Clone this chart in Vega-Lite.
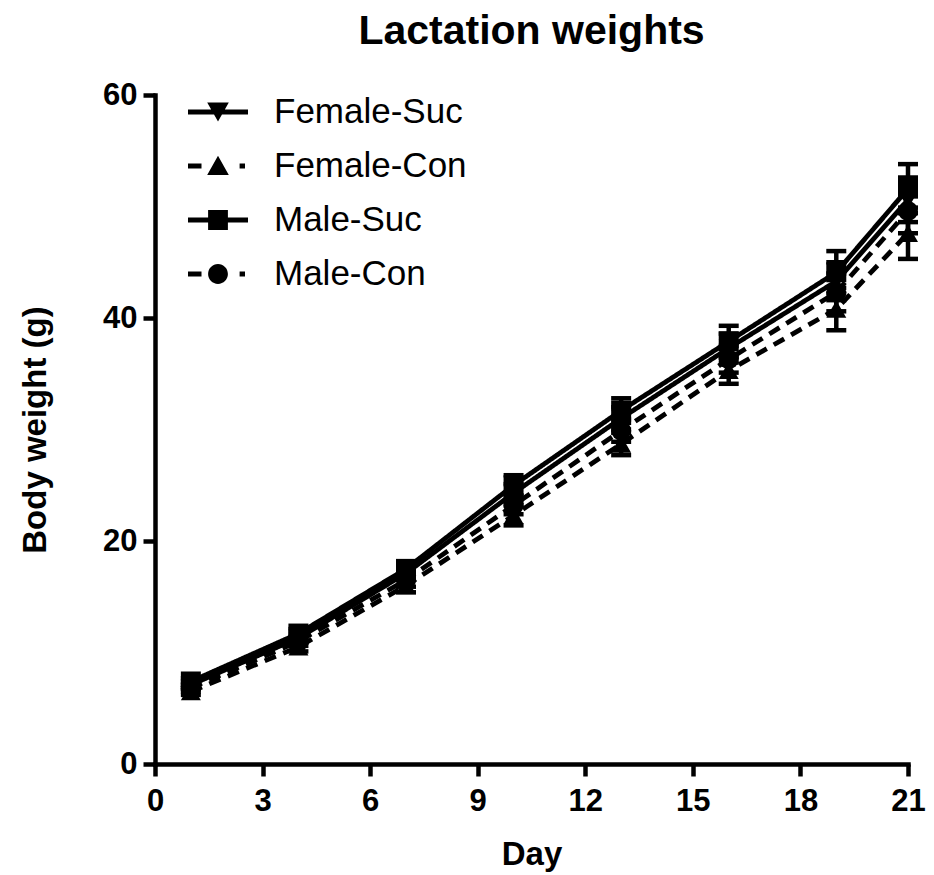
{
  "$schema": "https://vega.github.io/schema/vega-lite/v6.json",
  "autosize": "none",
  "width": 753,
  "height": 669,
  "padding": {"left": 155, "top": 95, "right": 26, "bottom": 111},
  "background": "white",
  "config": {
    "font": "Liberation Sans",
    "view": {"stroke": null},
    "axis": {
      "domainColor": "black", "domainWidth": 4.5, "domainCap": "square",
      "tickColor": "black", "tickWidth": 4.5, "tickSize": 12,
      "labelColor": "black", "labelFont": "Liberation Sans", "labelFontWeight": "bold", "labelFontSize": 31,
      "titleColor": "black", "titleFont": "Liberation Sans", "titleFontWeight": "bold", "titleFontSize": 33,
      "grid": false
    }
  },
  "title": {
    "text": "Lactation weights",
    "font": "Liberation Sans", "fontSize": 41, "fontWeight": "bold", "color": "black",
    "anchor": "middle", "offset": 26
  },
  "data": {
    "values": [
      {"day": 1, "group": "Male-Suc", "treatment": "Suc", "weight": 7.4, "sem": 0.3},
      {"day": 4, "group": "Male-Suc", "treatment": "Suc", "weight": 11.7, "sem": 0.4},
      {"day": 7, "group": "Male-Suc", "treatment": "Suc", "weight": 17.5, "sem": 0.6},
      {"day": 10, "group": "Male-Suc", "treatment": "Suc", "weight": 25.0, "sem": 0.9},
      {"day": 13, "group": "Male-Suc", "treatment": "Suc", "weight": 31.7, "sem": 1.1},
      {"day": 16, "group": "Male-Suc", "treatment": "Suc", "weight": 37.9, "sem": 1.4},
      {"day": 19, "group": "Male-Suc", "treatment": "Suc", "weight": 44.1, "sem": 1.9},
      {"day": 21, "group": "Male-Suc", "treatment": "Suc", "weight": 51.6, "sem": 2.2},
      {"day": 1, "group": "Female-Suc", "treatment": "Suc", "weight": 7.1, "sem": 0.3},
      {"day": 4, "group": "Female-Suc", "treatment": "Suc", "weight": 11.3, "sem": 0.4},
      {"day": 7, "group": "Female-Suc", "treatment": "Suc", "weight": 17.1, "sem": 0.6},
      {"day": 10, "group": "Female-Suc", "treatment": "Suc", "weight": 24.3, "sem": 0.8},
      {"day": 13, "group": "Female-Suc", "treatment": "Suc", "weight": 31.0, "sem": 1.0},
      {"day": 16, "group": "Female-Suc", "treatment": "Suc", "weight": 37.3, "sem": 1.3},
      {"day": 19, "group": "Female-Suc", "treatment": "Suc", "weight": 43.3, "sem": 1.7},
      {"day": 21, "group": "Female-Suc", "treatment": "Suc", "weight": 50.6, "sem": 2.0},
      {"day": 1, "group": "Male-Con", "treatment": "Con", "weight": 6.8, "sem": 0.3},
      {"day": 4, "group": "Male-Con", "treatment": "Con", "weight": 11.0, "sem": 0.4},
      {"day": 7, "group": "Male-Con", "treatment": "Con", "weight": 16.5, "sem": 0.6},
      {"day": 10, "group": "Male-Con", "treatment": "Con", "weight": 23.2, "sem": 0.8},
      {"day": 13, "group": "Male-Con", "treatment": "Con", "weight": 29.9, "sem": 1.0},
      {"day": 16, "group": "Male-Con", "treatment": "Con", "weight": 36.3, "sem": 1.2},
      {"day": 19, "group": "Male-Con", "treatment": "Con", "weight": 42.3, "sem": 1.7},
      {"day": 21, "group": "Male-Con", "treatment": "Con", "weight": 49.6, "sem": 2.0},
      {"day": 1, "group": "Female-Con", "treatment": "Con", "weight": 6.5, "sem": 0.3},
      {"day": 4, "group": "Female-Con", "treatment": "Con", "weight": 10.5, "sem": 0.4},
      {"day": 7, "group": "Female-Con", "treatment": "Con", "weight": 16.0, "sem": 0.6},
      {"day": 10, "group": "Female-Con", "treatment": "Con", "weight": 22.3, "sem": 0.9},
      {"day": 13, "group": "Female-Con", "treatment": "Con", "weight": 28.7, "sem": 1.0},
      {"day": 16, "group": "Female-Con", "treatment": "Con", "weight": 35.3, "sem": 1.2},
      {"day": 19, "group": "Female-Con", "treatment": "Con", "weight": 40.8, "sem": 1.9},
      {"day": 21, "group": "Female-Con", "treatment": "Con", "weight": 47.6, "sem": 2.3}
    ]
  },
  "encoding": {
    "x": {
      "field": "day", "type": "quantitative", "title": "Day",
      "scale": {"domain": [0, 21], "nice": false, "zero": false},
      "axis": {"values": [0, 3, 6, 9, 12, 15, 18, 21], "labelPadding": 10, "titlePadding": 22, "labelFlush": false}
    },
    "y": {
      "field": "weight", "type": "quantitative", "title": "Body weight (g)",
      "scale": {"domain": [0, 60], "nice": false},
      "axis": {"values": [0, 20, 40, 60], "labelPadding": 6, "titlePadding": 50, "labelFlush": false}
    }
  },
  "layer": [
    {
      "mark": {"type": "line", "color": "black", "strokeWidth": 4.8, "strokeCap": "butt"},
      "encoding": {
        "detail": {"field": "group"},
        "strokeDash": {
          "field": "treatment", "type": "nominal", "legend": null,
          "scale": {"domain": ["Suc", "Con"], "range": [[1, 0], [12, 8]]}
        }
      }
    },
    {
      "mark": {"type": "errorbar", "color": "black", "ticks": {"size": 20, "thickness": 4.5, "color": "black", "opacity": 1}, "rule": {"strokeWidth": 4.5, "color": "black", "opacity": 1}},
      "encoding": {
        "x": {"field": "day", "type": "quantitative"},
        "y": {"field": "weight", "type": "quantitative"},
        "yError": {"field": "sem"},
        "detail": {"field": "group"}
      }
    },
    {
      "mark": {"type": "point", "filled": true, "color": "black", "opacity": 1, "size": 400},
      "encoding": {
        "shape": {
          "field": "group", "type": "nominal", "legend": null,
          "scale": {"domain": ["Female-Suc", "Female-Con", "Male-Suc", "Male-Con"], "range": ["triangle-down", "triangle-up", "square", "circle"]}
        }
      }
    },
    {
      "mark": {"type": "point", "filled": true, "color": "black", "opacity": 0, "size": 3600},
      "encoding": {
        "shape": {
          "field": "group", "type": "nominal",
          "scale": {
            "domain": ["Female-Suc", "Female-Con", "Male-Suc", "Male-Con"],
            "range": [
              "M-1,-0.08L1,-0.08L1,0.08L-1,0.08Z M-0.36,-0.32L0.36,-0.32L0,0.32Z",
              "M-1,-0.08L-0.55,-0.08L-0.55,0.08L-1,0.08Z M0,-0.34L0.36,0.3L-0.36,0.3Z M0.72,-0.08L0.9,-0.08L0.9,0.08L0.72,0.08Z",
              "M-1,-0.08L1,-0.08L1,0.08L-1,0.08Z M-0.33,-0.33L0.33,-0.33L0.33,0.33L-0.33,0.33Z",
              "M-1,-0.08L-0.55,-0.08L-0.55,0.08L-1,0.08Z M-0.33,0A0.33,0.33 0 1,1 0.33,0A0.33,0.33 0 1,1 -0.33,0Z M0.72,-0.08L0.9,-0.08L0.9,0.08L0.72,0.08Z"
            ]
          },
          "legend": {
            "title": null, "orient": "none", "legendX": 33, "legendY": -13, "padding": 0,
            "symbolSize": 3600, "symbolOpacity": 1, "labelFontSize": 35, "labelFont": "Liberation Sans", "labelColor": "black", "labelLimit": 500,
            "labelOffset": 26, "rowPadding": 6, "symbolStrokeWidth": 0, "symbolFillColor": "black"
          }
        }
      }
    }
  ],
  "resolve": {"scale": {"shape": "independent"}, "legend": {"shape": "independent"}}
}
